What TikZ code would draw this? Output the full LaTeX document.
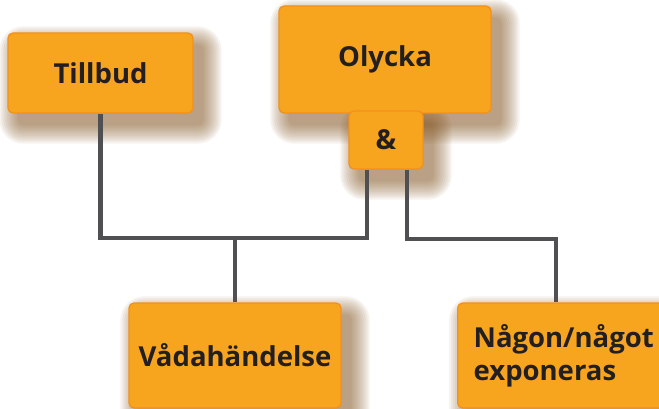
\documentclass[tikz,border=0pt]{standalone}
\usepackage{fontspec}
\setmainfont{Open Sans}
\usetikzlibrary{calc}
\definecolor{boxfill}{HTML}{F7A51E}
\definecolor{boxedge}{HTML}{F39019}
\definecolor{textcol}{HTML}{231F20}
\definecolor{linecol}{HTML}{505052}
\definecolor{shadowcol}{HTML}{7A4A14}
\pgfdeclarelayer{bg}
\pgfsetlayers{bg,main}
\newcommand\mkshadow[1]{%
  \begin{pgfonlayer}{bg}
  \foreach \r in {0,2,...,18}{%
    \fill[shadowcol, opacity=0.07, rounded corners=6pt+\r pt]
      ([xshift=10pt-\r pt, yshift=\r pt-12pt]#1.north west) rectangle
      ([xshift=10pt+\r pt, yshift=-12pt-\r pt]#1.south east);
  }
  \end{pgfonlayer}}
\begin{document}
\begin{tikzpicture}[x=1pt,y=-1pt,
  box/.style={draw=boxedge, line width=1.3pt, fill=boxfill, rounded corners=5pt,
    font=\fontsize{27.5}{33}\selectfont\bfseries, text=textcol, inner sep=0pt},
  conn/.style={draw=linecol, line width=4.5pt}]
\useasboundingbox (0,0) rectangle (659,409);
\node[box, minimum width=185pt, minimum height=80pt] (tillbud) at (100.5,73) {Tillbud};
\node[box, minimum width=212pt, minimum height=107pt] (olycka) at (385,59.5) {Olycka};
\node[box, minimum width=74pt, minimum height=58pt] (and) at (386,140) {\&};
\node[box, minimum width=212pt, minimum height=105pt] (vada) at (235,355.5) {Vådahändelse};
\node[box, anchor=west, align=left, text width=177pt, inner xsep=16pt, minimum height=105pt] (nagon) at (457,355.5) {Någon/något\\exponeras};
\mkshadow{tillbud}
\mkshadow{olycka}
\mkshadow{and}
\mkshadow{vada}
\mkshadow{nagon}
\coordinate (mid) at (235,238);
\coordinate (rt) at (556,239);
\begin{pgfonlayer}{bg}
\draw[conn] (tillbud.south) |- (mid) -| ([xshift=-19pt]and.south);
\draw[conn] (mid) -- (vada.north -| mid);
\draw[conn] ([xshift=21pt]and.south) |- (rt) -- (nagon.north -| rt);
\end{pgfonlayer}
\end{tikzpicture}
\end{document}
